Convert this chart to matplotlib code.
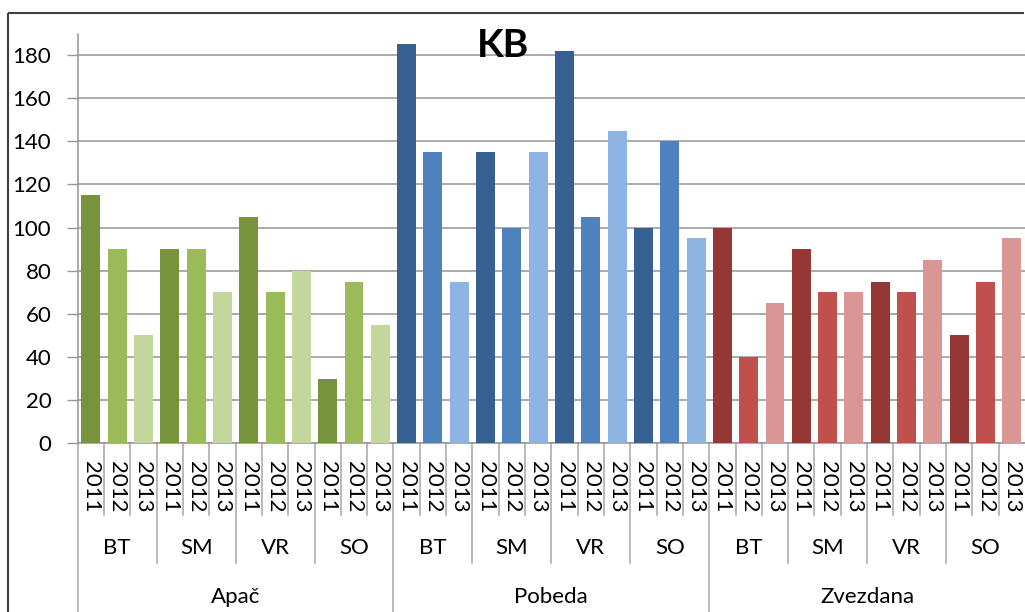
import matplotlib.pyplot as plt
from matplotlib.lines import Line2D

plt.rcParams["font.family"] = ["Lato", "DejaVu Sans"]

groups = ["Apač", "Pobeda", "Zvezdana"]
subgroups = ["BT", "SM", "VR", "SO"]
years = ["2011", "2012", "2013"]

apac = [115, 90, 50, 90, 90, 70, 105, 70, 80, 30, 75, 55]
pobeda = [185, 135, 75, 135, 100, 135, 182, 105, 145, 100, 140, 95]
zvezdana = [100, 40, 65, 90, 70, 70, 75, 70, 85, 50, 75, 95]

colors = {
    "Apač": ["#77933C", "#9BBB59", "#C3D69B"],
    "Pobeda": ["#366092", "#4F81BD", "#8EB4E3"],
    "Zvezdana": ["#953735", "#C0504D", "#D99694"],
}

fig = plt.figure(figsize=(10.25, 6.12), dpi=100)
ax = fig.add_axes([77.7 / 1025, 1 - 443.3 / 612, 1 - 77.7 / 1025, (443.3 - 33.5) / 612])

values = apac + pobeda + zvezdana
bar_colors = []
for g in groups:
    bar_colors += colors[g] * len(subgroups)
xs = list(range(len(values)))
ax.bar(xs, values, width=0.72, color=bar_colors, zorder=3)

ax.set_xlim(-0.5, len(values) - 0.5)
ax.set_ylim(0, 190)
ax.set_yticks(range(0, 181, 20))
ax.grid(axis="y", color="#959595", linewidth=1.1, zorder=0)
ax.tick_params(axis="y", length=8, width=1, color="#959595", pad=11, labelsize=16)
ax.set_xticks([])
for s in ["top", "right"]:
    ax.spines[s].set_visible(False)
for s in ["left", "bottom"]:
    ax.spines[s].set_color("#959595")
    ax.spines[s].set_linewidth(1.1)

tr = ax.get_xaxis_transform()
# year labels
for i in xs:
    ax.text(i, -0.0425, years[i % 3], rotation=270, ha="center", va="top",
            fontsize=16, transform=tr)
# subgroup labels
for k in range(len(groups) * len(subgroups)):
    ax.text(3 * k + 1, -0.2555, subgroups[k % 4], ha="center", va="center",
            fontsize=16, transform=tr)
# group labels
for k, g in enumerate(groups):
    ax.text(12 * k + 5.5, -0.375, g, ha="center", va="center",
            fontsize=16, transform=tr)
# separators
for i in range(len(values)):
    if i % 12 == 0:
        y0 = -0.45
    elif i % 3 == 0:
        y0 = -0.292
    else:
        y0 = -0.175
    ax.add_line(Line2D([i - 0.5, i - 0.5], [0, y0], transform=tr, color="#a6a6a6",
                       linewidth=1.1, clip_on=False))

fig.text(503 / 1025, 1 - 57 / 612, "KB", ha="center", va="baseline",
         fontsize=28, fontweight="bold")

# outer chart frame (only left and top edges are visible)
fx = 8 / 1025
fy = 1 - 13 / 612
fig.add_artist(Line2D([fx, fx], [0, fy], transform=fig.transFigure,
                      color="#404040", linewidth=1.5, solid_capstyle="butt"))
fig.add_artist(Line2D([fx, 0.999], [fy, fy], transform=fig.transFigure,
                      color="#404040", linewidth=1.5, solid_capstyle="butt"))

fig.savefig("out.png", dpi=100)
